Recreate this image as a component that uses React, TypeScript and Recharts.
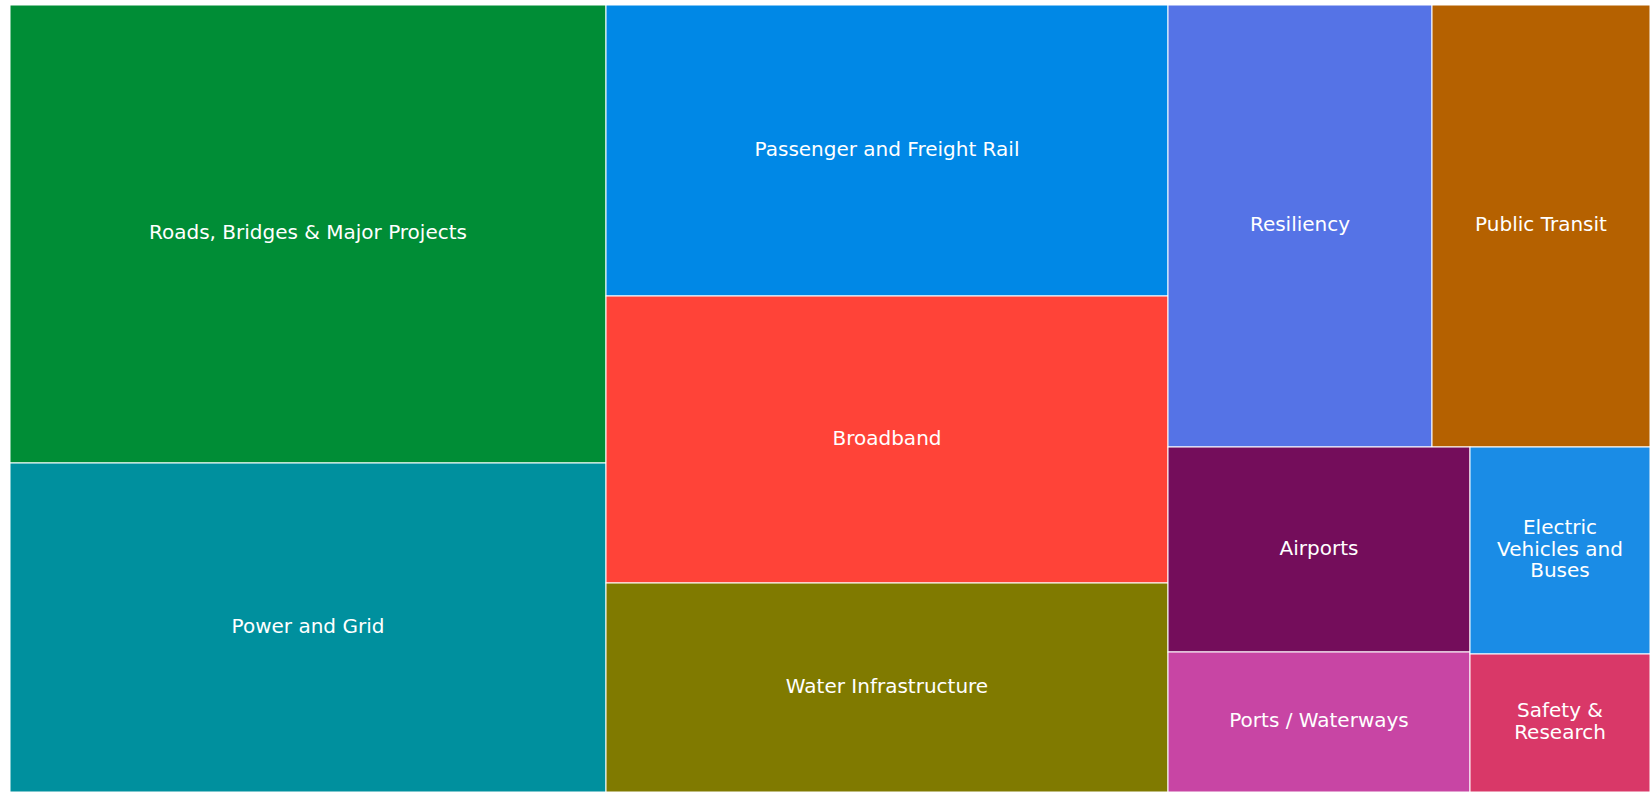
import { Treemap } from "recharts";

const categories = [
  "Roads, Bridges & Major Projects",
  "Power and Grid",
  "Passenger and Freight Rail",
  "Broadband",
  "Water Infrastructure",
  "Resiliency",
  "Public Transit",
  "Airports",
  "Ports / Waterways",
  "Electric<br>Vehicles and<br>Buses",
  "Safety &<br>Research",
];

// funding, $ billions
const funding = [110, 79, 66, 65, 47.5, 47, 39, 25, 17, 15, 10];

const colors = [
  "#008d36",
  "#00909e",
  "#0088e6",
  "#ff4338",
  "#807a00",
  "#5573e6",
  "#b56100",
  "#740d5b",
  "#c845a4",
  "#1a8ce6",
  "#d93868",
];

const data = categories.map((name, i) => ({ name, value: funding[i] }));

function Cell(props: any) {
  const { x, y, width, height, name, depth } = props;
  if (depth !== 1) return <g />;
  const idx = categories.indexOf(name);
  const lines = String(name).split("<br>");
  const lineHeight = 21.5;
  const cx = x + width / 2;
  const cy = y + height / 2 - 2;
  const startY = cy - ((lines.length - 1) * lineHeight) / 2;
  return (
    <g>
      <rect x={x} y={y} width={width} height={height} fill={colors[idx]} stroke="#fff" strokeWidth={1} />
      <text
        x={cx}
        y={startY}
        textAnchor="middle"
        dominantBaseline="central"
        fill="#fff"
        fontFamily="DejaVu Sans, Verdana, sans-serif"
        fontSize={20}
      >
        {lines.map((line, i) => (
          <tspan key={line} x={cx} y={startY + i * lineHeight}>
            {line}
          </tspan>
        ))}
      </text>
    </g>
  );
}

export default function App() {
  return (
    <div style={{ position: "absolute", left: 10, top: 5 }}>
      <Treemap
        width={1640}
        height={787}
        data={data}
        dataKey="value"
        nameKey="name"
        aspectRatio={2}
        isAnimationActive={false}
        content={<Cell />}
      />
    </div>
  );
}
